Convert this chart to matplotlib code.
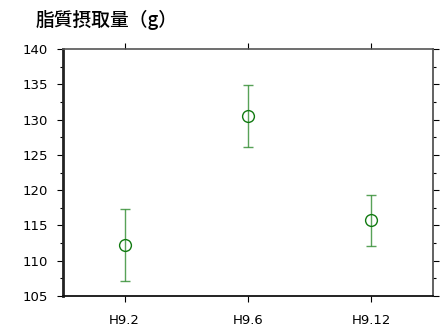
import matplotlib
matplotlib.use("Agg")
import matplotlib.pyplot as plt
from matplotlib.ticker import MultipleLocator

categories = ["H9.2", "H9.6", "H9.12"]
means = [112.2, 130.5, 115.7]
errors = [5.1, 4.35, 3.65]

plt.rcParams['font.family'] = ['DejaVu Sans', 'Noto Sans CJK JP']

fig = plt.figure(figsize=(4.4, 3.29), dpi=100)
ax = fig.add_axes([63/440, 1-296/329, (433-63)/440, (296-49)/329])

x = list(range(len(categories)))
ax.errorbar(x, means, yerr=errors, fmt='none', ecolor='#2e8b2e', elinewidth=1.0,
            capsize=3.5, capthick=1.0, alpha=0.8)
ax.plot(x, means, linestyle='none', marker='o', markersize=8.5, markerfacecolor='none',
        markeredgecolor='#117a11', markeredgewidth=1.0)

ax.set_xlim(-0.5, 2.5)
ax.set_ylim(105, 140)
ax.set_xticks(x)
ax.set_xticklabels(categories, fontsize=9.5)
ax.yaxis.set_major_locator(MultipleLocator(5))
ax.yaxis.set_minor_locator(MultipleLocator(2.5))
ax.tick_params(axis='y', which='major', direction='out', left=True, right=True,
               length=4, width=0.8, labelsize=9.5, pad=7)
ax.tick_params(axis='y', which='minor', direction='out', left=True, right=True,
               length=2.5, width=0.8, labelleft=False)
ax.tick_params(axis='x', direction='out', top=True, bottom=True, length=4, width=0.8, pad=9)

ax.spines['left'].set_linewidth(2.0)
ax.spines['left'].set_color('#222222')
ax.spines['bottom'].set_linewidth(1.3)
ax.spines['bottom'].set_color('#111111')
ax.spines['top'].set_color('#555555')
ax.spines['top'].set_linewidth(1.2)
ax.spines['right'].set_color('#555555')
ax.spines['right'].set_linewidth(1.3)

fig.text(36/440, 1-20/329, "脂質摂取量（g）", fontsize=13.5, fontweight='medium',
         family=['Noto Sans CJK JP', 'DejaVu Sans'], va='center', ha='left')

fig.savefig("out.png", dpi=100)
